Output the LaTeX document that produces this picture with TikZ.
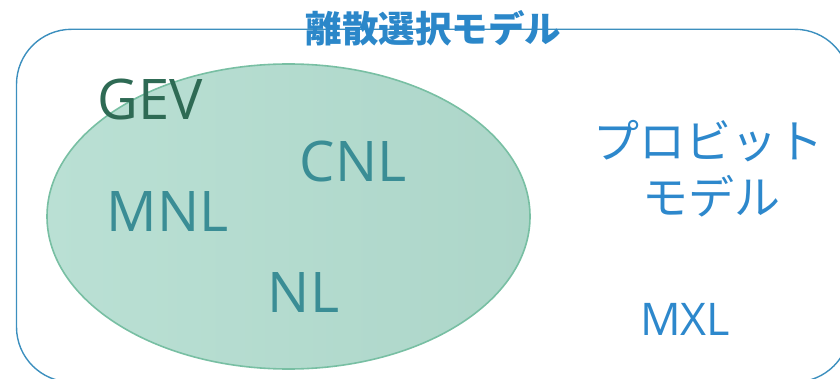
\documentclass[tikz,border=0pt]{standalone}
\usepackage{fontspec}
\setmainfont{Open Sans}
\newfontfamily\cjk{Noto Sans CJK JP}
\usetikzlibrary{shapes.geometric}
\definecolor{frameblue}{RGB}{60,143,190}
\definecolor{titleblue}{RGB}{43,135,201}
\definecolor{fillL}{RGB}{186,224,212}
\definecolor{fillR}{RGB}{173,214,201}
\definecolor{edgegreen}{RGB}{120,191,163}
\definecolor{gevgreen}{RGB}{46,106,84}
\definecolor{tealtext}{RGB}{58,141,149}
\definecolor{bluetext}{RGB}{45,136,204}
\tikzset{
  lbl/.style={anchor=base, inner sep=0pt, font=\fontsize{56}{60}\selectfont},
  jp/.style={anchor=center, inner sep=0pt, text height=0.88em, text depth=0.12em}
}
\begin{document}
\begin{tikzpicture}[x=1pt,y=-1pt]
\useasboundingbox (0,0) rectangle (840,379);
\begin{scope}
\clip (0,0) rectangle (840,379);
\node[draw=frameblue, line width=1.4pt, rounded corners=55pt, minimum width=833.5pt, minimum height=352.7pt, inner sep=0pt] (frame) at (433.25,205.65) {};
\node[ellipse, draw=edgegreen, line width=1.6pt, left color=fillL, right color=fillR, minimum width=483pt, minimum height=305pt, inner sep=0pt] (gevset) at (288.5,216.5) {};
\node[jp, text=titleblue, font=\cjk\bfseries\fontsize{36.5}{40}\selectfont] (title) at (433.5,39) {離散選択モデル};
\node[lbl, text=gevgreen] (gev) at (150,120) {GEV};
\node[lbl, text=tealtext] (cnl) at (353,182) {CNL};
\node[lbl, text=tealtext] (mnl) at (167.5,232) {MNL};
\node[lbl, text=tealtext] (nl) at (303.5,312) {NL};
\node[lbl, text=bluetext, font=\fontsize{45}{50}\selectfont] (mxl) at (685,335) {MXL};
\node[jp, text=bluetext, font=\cjk\fontsize{46}{50}\selectfont] (probit1) at (708.5,155) {プロビット};
\node[jp, text=bluetext, font=\cjk\fontsize{46}{50}\selectfont] (probit2) at (711,210.5) {モデル};
\end{scope}
\end{tikzpicture}
\end{document}
